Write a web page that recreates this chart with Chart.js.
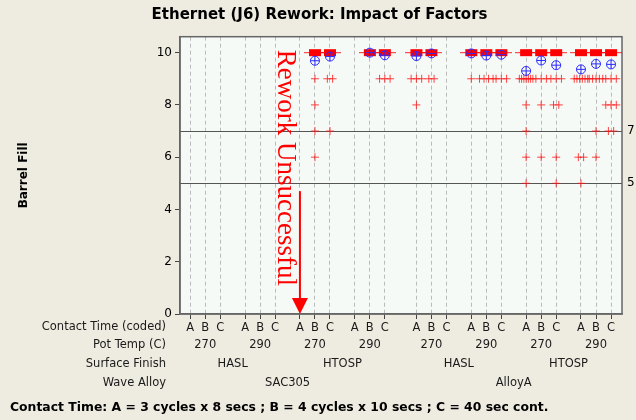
<!DOCTYPE html>
<html>
<head>
<meta charset="utf-8">
<script src="https://cdn.jsdelivr.net/npm/chart.js@4.4.1/dist/chart.umd.min.js"></script>
<style>
  html, body { margin: 0; padding: 0; background: #EEEBE0; }
  #wrap { width: 636px; height: 420px; position: relative; }
</style>
</head>
<body>
<div id="wrap"><canvas id="chart"></canvas></div>
<script>
// factor levels (innermost first)
const contactLevels = ['A', 'B', 'C']
const potTemps = ['270', '290', '270', '290', '270', '290', '270', '290']
const surfaceFinish = ['HASL', 'HTOSP', 'HASL', 'HTOSP']
const waveAlloys = ['SAC305', 'AlloyA']
const yTicks = [0, 2, 4, 6, 8, 10]
const refLines = [7, 5]

// 24 cells = 8 (alloy/finish/temp) groups x 3 contact times
// readings below 10 in each cell; null = no data (rework unsuccessful)
const lowValues = [
  null, null, null,
  null, null, null,
  null, [9, 8, 7, 6], [9, 9, 7],
  null, [], [9, 9, 9],
  [9, 9, 9, 8], [9, 9], null,
  [9], [9, 9, 9, 9], [9, 9, 9],
  [9, 9, 9, 9, 9, 9, 9, 8, 7, 6, 5], [9, 9, 9, 8, 6], [9, 9, 9, 8, 8, 6, 5],
  [9, 9, 9, 9, 9, 9, 6, 6, 5], [9, 9, 9, 9, 9, 7, 6], [9, 9, 9, 8, 8, 8, 7, 7]
]
// cell means (blue circles)
const cellMeans = [
  null, null, null,
  null, null, null,
  null, 9.69, 9.85,
  null, 10.0, 9.9,
  9.87, 9.97, null,
  9.97, 9.89, 9.92,
  9.3, 9.7, 9.52,
  9.36, 9.57, 9.55
]
const pileValue = 10

// x position of a cell on the linear axis
const pos = i => {
  const g = Math.floor(i / 3), l = i % 3
  return g * 3.65 + (g >= 4 ? 0.45 : 0) + l
}
const cellPositions = lowValues.map((_, i) => pos(i))

const meanPts = []
cellMeans.forEach((m, i) => { if (m !== null) meanPts.push({x: pos(i), y: m}) })

const pilePts = []
lowValues.forEach((v, i) => { if (v !== null) pilePts.push({x: pos(i), y: pileValue}) })

// jitter equal readings side by side
const lowPts = []
lowValues.forEach((vals, i) => {
  if (!vals) return
  const counts = {}
  vals.forEach(v => counts[v] = (counts[v] || 0) + 1)
  Object.keys(counts).forEach(v => {
    const k = counts[v]
    const step = k <= 3 ? 0.35 : Math.min(0.35, 0.9 / (k - 1))
    for (let j = 0; j < k; j++) lowPts.push({x: pos(i) + (j - (k - 1) / 2) * step, y: +v})
  })
})

function makePile() {
  const c = document.createElement('canvas')
  c.width = 22; c.height = 9
  const g = c.getContext('2d')
  g.strokeStyle = 'rgba(255,0,0,0.85)'
  g.lineWidth = 1
  g.beginPath(); g.moveTo(0, 4.5); g.lineTo(22, 4.5); g.stroke()
  g.fillStyle = '#FF0000'
  g.fillRect(5, 1, 12, 7)
  return c
}

const FONT = 'DejaVu Sans'

const decor = {
  id: 'decor',
  beforeDraw(chart) {
    const {ctx, chartArea: a} = chart
    ctx.save()
    ctx.fillStyle = '#F6FAF7'
    ctx.fillRect(a.left, a.top, a.right - a.left, a.bottom - a.top)
    ctx.restore()
  },
  beforeDatasetsDraw(chart) {
    const {ctx, chartArea: a, scales: {y}} = chart
    ctx.save()
    ctx.strokeStyle = '#555'
    ctx.lineWidth = 1
    refLines.forEach(v => {
      const py = Math.round(y.getPixelForValue(v)) + 0.5
      ctx.beginPath(); ctx.moveTo(a.left, py); ctx.lineTo(a.right, py); ctx.stroke()
    })
    ctx.strokeStyle = '#666'
    ctx.lineWidth = 1.5
    ctx.strokeRect(a.left, a.top, a.right - a.left, a.bottom - a.top)

    // annotation
    const ax = x => chart.scales.x.getPixelForValue(x)
    const arrowX = ax(pos(6))
    ctx.fillStyle = '#FF0000'
    ctx.strokeStyle = '#FF0000'
    ctx.lineWidth = 2
    ctx.beginPath(); ctx.moveTo(arrowX, y.getPixelForValue(4.7)); ctx.lineTo(arrowX, a.bottom - 12); ctx.stroke()
    ctx.beginPath()
    ctx.moveTo(arrowX - 8, a.bottom - 16)
    ctx.lineTo(arrowX + 8, a.bottom - 16)
    ctx.lineTo(arrowX, a.bottom)
    ctx.closePath(); ctx.fill()
    ctx.save()
    ctx.translate(arrowX - 22, a.top + 13)
    ctx.rotate(Math.PI / 2)
    ctx.font = '27px "Liberation Serif"'
    ctx.textAlign = 'left'
    ctx.textBaseline = 'alphabetic'
    ctx.fillText('Rework Unsuccessful', 0, 0)
    ctx.restore()
    ctx.restore()
  },
  afterDraw(chart) {
    const {ctx, chartArea: a, scales: {x, y}} = chart
    const px = v => x.getPixelForValue(v)
    ctx.save()
    ctx.fillStyle = '#1a1a1a'
    ctx.font = '11.5px ' + FONT
    ctx.textBaseline = 'middle'
    ctx.textAlign = 'right'
    const rows = [['Contact Time (coded)', 327], ['Pot Temp (C)', 345], ['Surface Finish', 364], ['Wave Alloy', 383]]
    rows.forEach(r => ctx.fillText(r[0], 166, r[1]))
    ctx.textAlign = 'center'
    potTemps.forEach((t, g) => ctx.fillText(t, px(pos(g * 3 + 1)), 345))
    surfaceFinish.forEach((s, k) => ctx.fillText(s, (px(pos(k * 6 + 1)) + px(pos(k * 6 + 4))) / 2, 364))
    waveAlloys.forEach((w, k) => ctx.fillText(w, (px(pos(k * 12)) + px(pos(k * 12 + 11))) / 2, 383))

    ctx.textAlign = 'left'
    ctx.font = '12px ' + FONT
    ctx.fillStyle = '#000'
    refLines.forEach(v => ctx.fillText(String(v), a.right + 5, y.getPixelForValue(v)))

    ctx.font = 'bold 12.4px ' + FONT
    ctx.fillText('Contact Time: A = 3 cycles x 8 secs ; B = 4 cycles x 10 secs ; C = 40 sec cont.', 10, 408)
    ctx.restore()
  }
}

new Chart(document.getElementById('chart'), {
  type: 'scatter',
  data: {
    datasets: [
      {data: meanPts, pointStyle: 'cross', radius: 4.5, borderColor: '#2a2aff', borderWidth: 1},
      {data: meanPts, pointStyle: 'circle', radius: 4.5, backgroundColor: 'rgba(0,0,0,0)', borderColor: '#2a2aff', borderWidth: 1},
      {data: pilePts, pointStyle: makePile(), radius: 5},
      {data: lowPts, pointStyle: 'cross', radius: 4, borderColor: 'rgba(255,20,20,0.8)', borderWidth: 1}
    ]
  },
  options: {
    responsive: true,
    maintainAspectRatio: false,
    animation: false,
    events: [],
    layout: {padding: {left: 17, right: 14, top: 0, bottom: 0}},
    plugins: {
      legend: {display: false},
      tooltip: {enabled: false},
      title: {
        display: true,
        text: 'Ethernet (J6) Rework: Impact of Factors',
        color: '#000',
        font: {family: FONT, size: 15, weight: 'bold'},
        padding: {top: 6, bottom: 12.7}
      }
    },
    scales: {
      x: {
        type: 'linear',
        min: -0.68,
        max: 28.73,
        afterBuildTicks: s => { s.ticks = cellPositions.map(v => ({value: v})) },
        afterFit: s => { s.height = 106 },
        ticks: {
          autoSkip: false,
          maxRotation: 0,
          padding: 2,
          color: '#1a1a1a',
          font: {family: FONT, size: 11.5},
          callback: (v, i) => contactLevels[i % 3]
        },
        grid: {
          color: '#BBBBBB',
          tickColor: '#444',
          tickLength: 5,
          tickBorderDash: []
        },
        border: {display: true, color: '#666', width: 1.5, dash: [4, 3]}
      },
      y: {
        min: 0,
        max: 10.61,
        afterBuildTicks: s => { s.ticks = yTicks.map(v => ({value: v})) },
        afterFit: s => { s.width = 163 },
        title: {
          display: true,
          text: 'Barrel Fill',
          color: '#000',
          font: {family: FONT, size: 12, weight: 'bold'},
          padding: {top: 0, bottom: 0}
        },
        ticks: {color: '#000', font: {family: FONT, size: 12}, padding: 3},
        grid: {drawOnChartArea: false, tickLength: 5, tickColor: '#444'},
        border: {display: true, color: '#666', width: 1.5}
      }
    }
  },
  plugins: [decor]
})
</script>
</body>
</html>
